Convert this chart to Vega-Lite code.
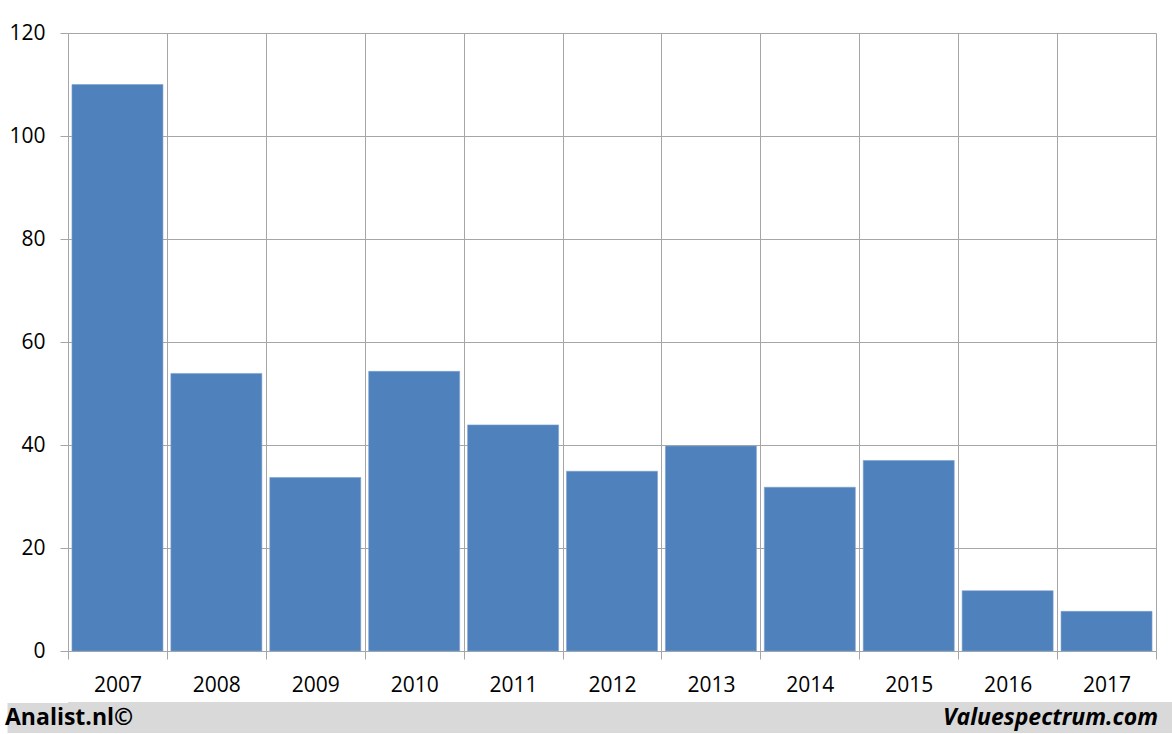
{
  "$schema": "https://vega.github.io/schema/vega-lite/v6.json",
  "background": "white",
  "padding": {"left": 0, "top": 22, "right": 0, "bottom": -7},
  "spacing": 1,
  "config": {
    "font": "Open Sans",
    "view": {"stroke": null}
  },
  "vconcat": [
    {
      "width": 1088,
      "height": 618,
      "data": {
        "values": [
          {"year": "2007", "value": 110.0},
          {"year": "2008", "value": 53.9},
          {"year": "2009", "value": 33.7},
          {"year": "2010", "value": 54.3},
          {"year": "2011", "value": 43.9},
          {"year": "2012", "value": 34.9},
          {"year": "2013", "value": 39.8},
          {"year": "2014", "value": 31.8},
          {"year": "2015", "value": 37.0},
          {"year": "2016", "value": 11.7},
          {"year": "2017", "value": 7.7}
        ]
      },
      "mark": {"type": "bar", "color": "#4f81bd", "width": {"band": 0.92}, "stroke": "#7da1cf", "strokeWidth": 0.6},
      "encoding": {
        "x": {
          "field": "year",
          "type": "nominal",
          "sort": null,
          "scale": {"paddingInner": 0, "paddingOuter": 0},
          "axis": {
            "title": null,
            "labelAngle": 0,
            "labelFontSize": 21,
            "labelColor": "#000000",
            "labelPadding": 15,
            "tickBand": "extent",
            "tickSize": 8,
            "tickColor": "#a6a6a6",
            "domainColor": "#a6a6a6",
            "gridColor": "#a6a6a6",
            "grid": true,
            "gridWidth": 1
          }
        },
        "y": {
          "field": "value",
          "type": "quantitative",
          "scale": {"domain": [0, 120], "nice": false},
          "axis": {
            "title": null,
            "values": [0, 20, 40, 60, 80, 100, 120],
            "labelFontSize": 21,
            "labelColor": "#000000",
            "labelPadding": 15,
            "tickSize": 8,
            "tickColor": "#a6a6a6",
            "domainColor": "#a6a6a6",
            "gridColor": "#a6a6a6",
            "gridWidth": 1
          }
        }
      }
    },
    {
      "width": 1104,
      "height": 31,
      "view": {"fill": "#d9d9d9", "stroke": null},
      "data": {
        "values": [
          {"side": "left", "label": "Analist.nl©"},
          {"side": "right", "label": "Valuespectrum.com"}
        ]
      },
      "encoding": {
        "y": {
          "datum": "strip",
          "type": "nominal",
          "scale": {"type": "point", "padding": 0.5},
          "axis": {
            "title": null,
            "labels": false,
            "domain": false,
            "grid": false,
            "ticks": true,
            "tickSize": 45.5,
            "tickWidth": 31,
            "tickCap": "square",
            "tickColor": "#d9d9d9"
          }
        }
      },
      "layer": [
        {
          "transform": [{"filter": "datum.side === 'left'"}],
          "mark": {"type": "text", "align": "left", "baseline": "middle", "fontSize": 23, "fontWeight": "bold", "color": "#000000", "dx": -63},
          "encoding": {
            "x": {"field": "side", "type": "nominal", "scale": {"type": "point", "domain": ["left", "right"], "padding": 0}, "axis": null},
            "text": {"field": "label"}
          }
        },
        {
          "transform": [{"filter": "datum.side === 'right'"}],
          "mark": {"type": "text", "align": "right", "baseline": "middle", "fontSize": 23, "fontWeight": "bold", "fontStyle": "italic", "color": "#000000", "dx": -14},
          "encoding": {
            "x": {"field": "side", "type": "nominal", "scale": {"type": "point", "domain": ["left", "right"], "padding": 0}, "axis": null},
            "text": {"field": "label"}
          }
        }
      ]
    }
  ]
}
